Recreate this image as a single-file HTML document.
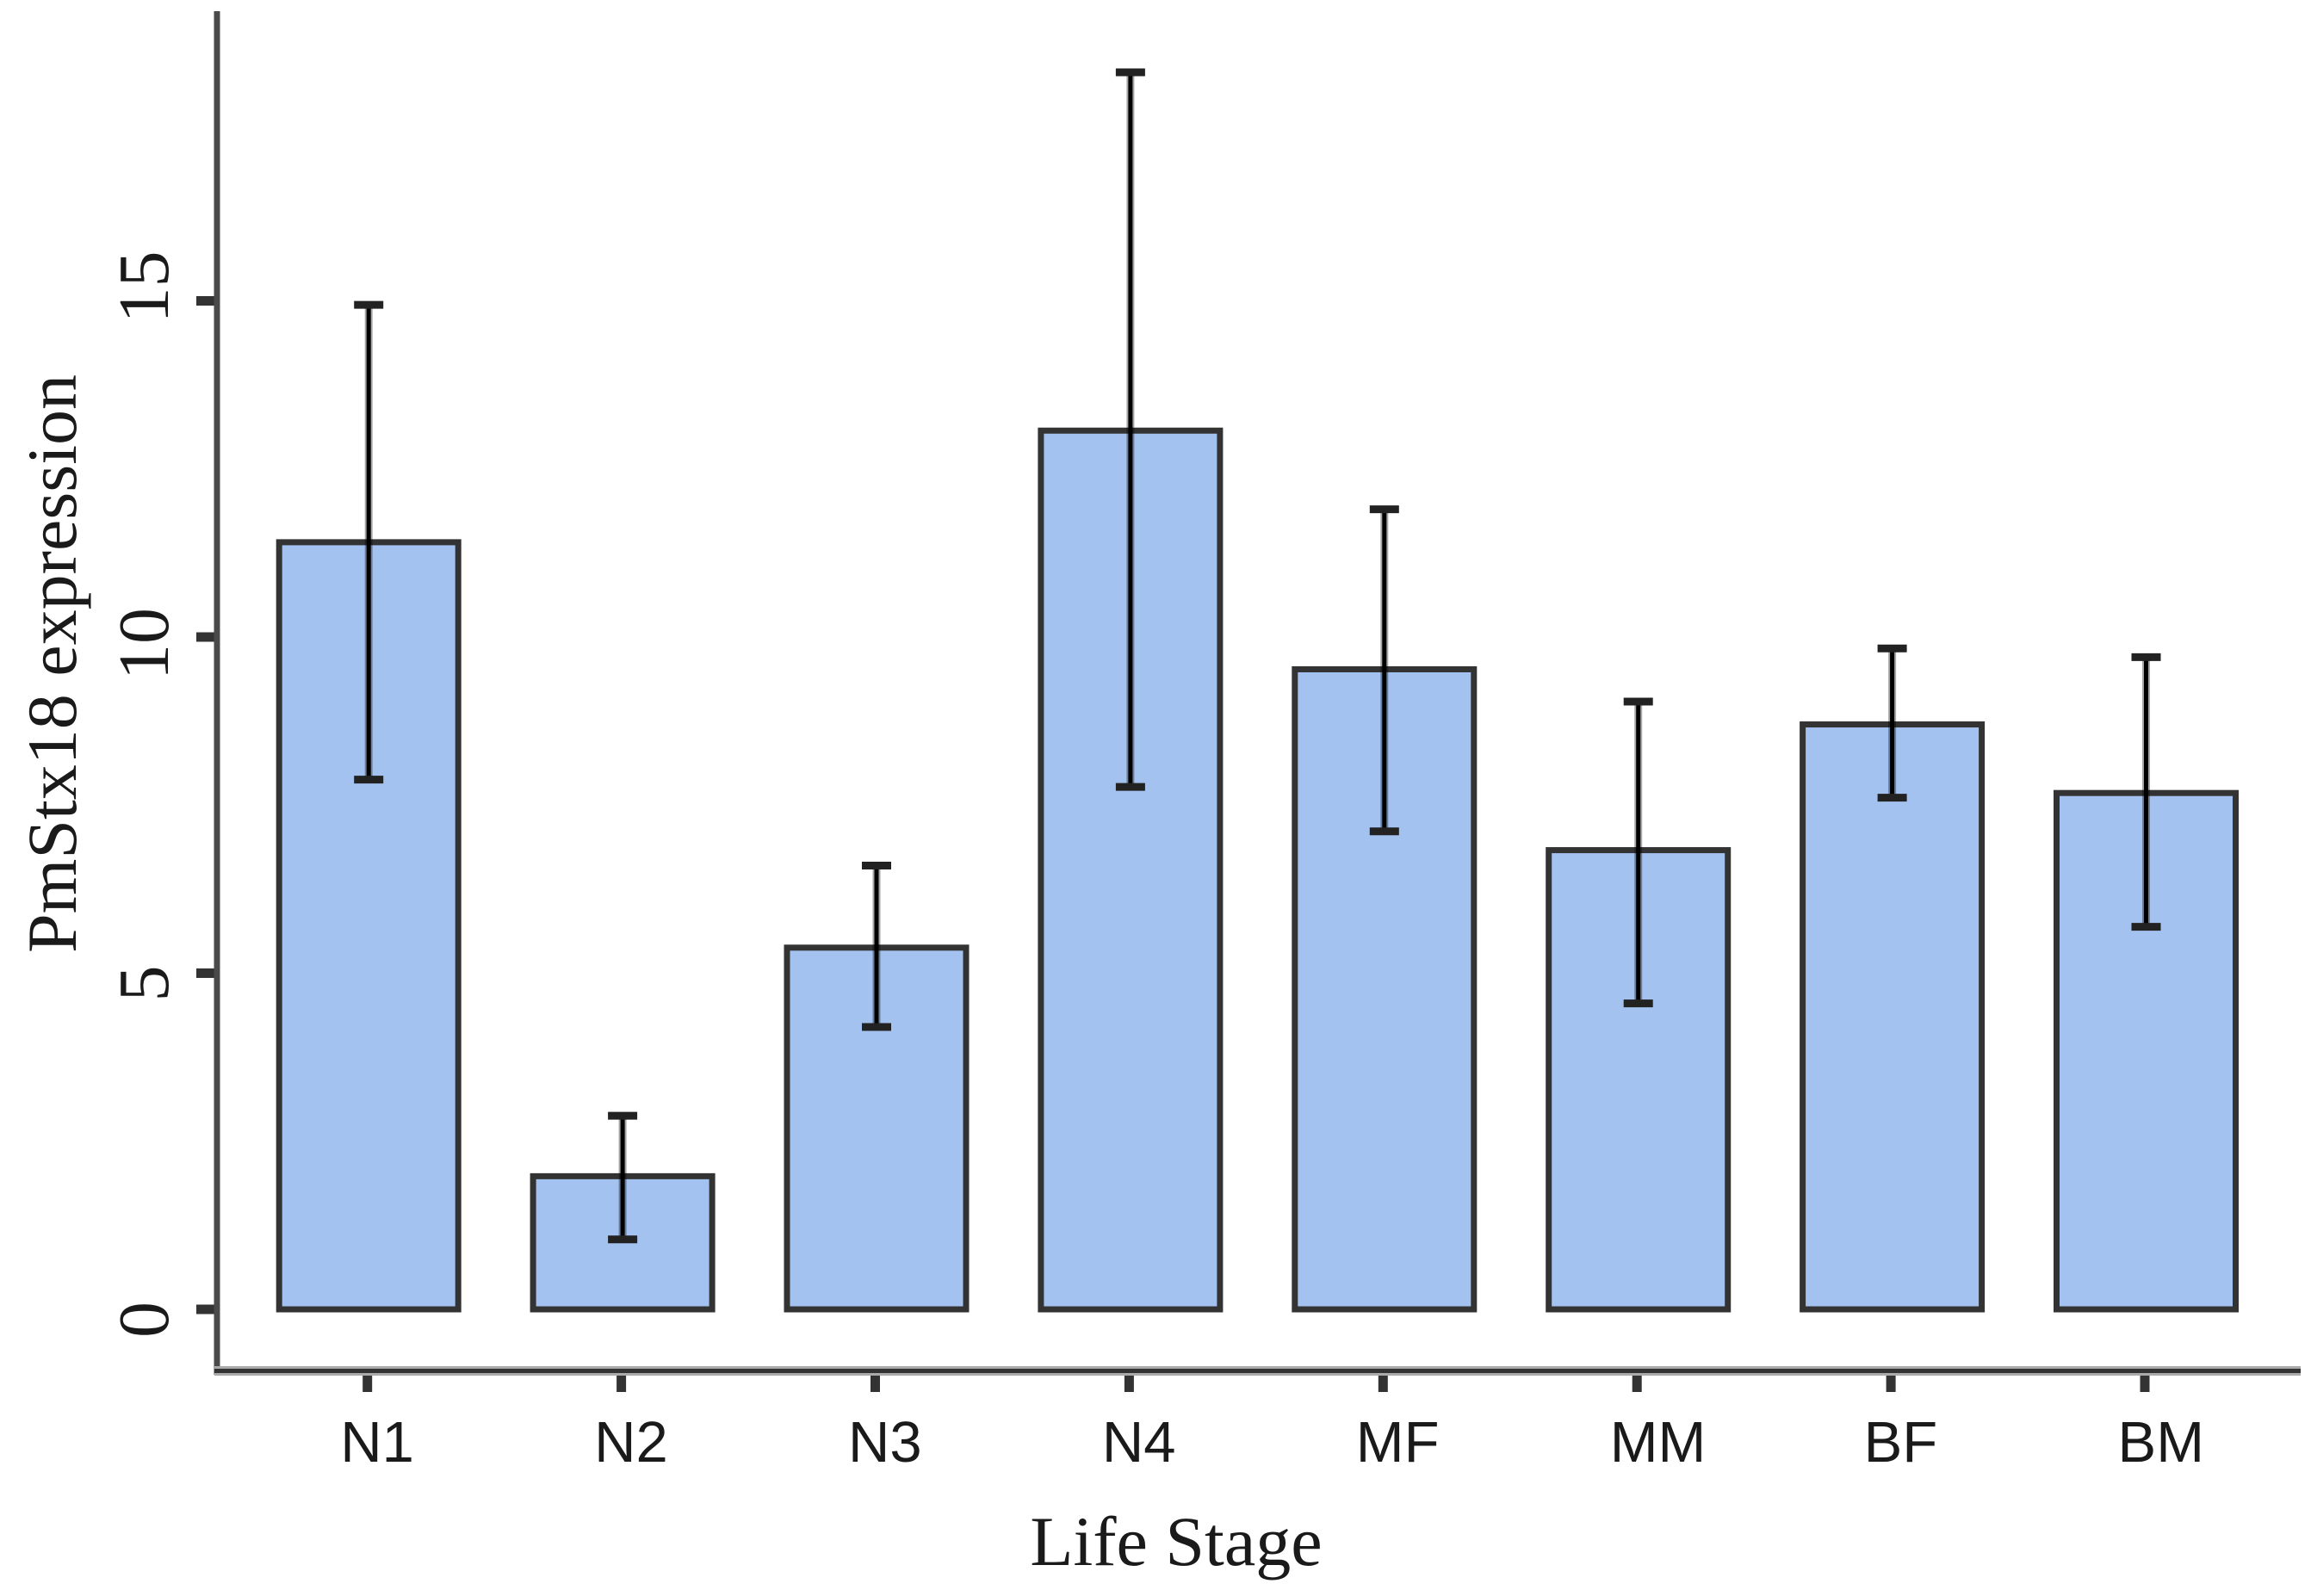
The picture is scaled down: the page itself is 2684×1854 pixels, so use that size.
<!DOCTYPE html>
<html>
<head>
<meta charset="utf-8">
<title>PmStx18 expression by life stage</title>
<style>
html,body{margin:0;padding:0;background:#fff;}
svg{display:block;}
.tick-x{font-family:"Liberation Sans",sans-serif;font-size:67px;fill:#1a1a1a;}
.serif{font-family:"Liberation Serif",serif;fill:#1a1a1a;}
</style>
</head>
<body>
<svg id="chart" width="2684" height="1854" viewBox="0 0 2684 1854" xmlns="http://www.w3.org/2000/svg">
<rect width="2684" height="1854" fill="#ffffff"/>
<g id="bars"></g>
<g id="errors"></g>
<g id="axes"></g>
<text class="serif" font-size="82" x="1366" y="1818" text-anchor="middle">Life Stage</text>
<text class="serif" font-size="82" text-anchor="middle" transform="translate(88 771) rotate(-90)">PmStx18 expression</text>
</svg>
<script>
const categories = ['N1','N2','N3','N4','MF','MM','BF','BM'];
const means = [11.41,1.98,5.38,13.07,9.52,6.83,8.70,7.68];
const errorHigh = [14.94,2.88,6.60,18.40,11.90,9.04,9.83,9.70];
const errorLow = [7.88,1.04,4.20,7.77,7.11,4.55,7.61,5.69];
const yTicks = [0,5,10,15];

const NS = 'http://www.w3.org/2000/svg';
const zeroY = 1521, unitY = 78.1;
const firstX = 428.2, stepX = 294.9, barW = 208;
function yScale(v){ return zeroY - v * unitY; }
function xScale(i){ return firstX + i * stepX; }
function yLabelShift(t){
  if (t === 15) return 26;
  if (t === 10) return 50;
  return 33;
}
function make(tag, attrs, parent){
  const el = document.createElementNS(NS, tag);
  for (const k in attrs) el.setAttribute(k, attrs[k]);
  parent.appendChild(el);
  return el;
}
const barsG = document.getElementById('bars');
const errG = document.getElementById('errors');
const axesG = document.getElementById('axes');

categories.forEach(function(cat, i){
  const cx = xScale(i);
  const bar = make('rect', {x: cx - barW/2, y: yScale(means[i]), width: barW, height: yScale(0) - yScale(means[i]), fill: '#a4c2ef', stroke: '#333333', 'stroke-width': 7}, barsG);
  
  

  const halo = make('line', {x1: cx, x2: cx, y1: yScale(errorHigh[i]), y2: yScale(errorLow[i]), stroke: '#000', 'stroke-opacity': 0.35, 'stroke-width': 9}, errG);
  
  
  const stem = make('line', {x1: cx, x2: cx, y1: yScale(errorHigh[i]), y2: yScale(errorLow[i]), stroke: '#000', 'stroke-width': 5}, errG);
  
  
  const capHi = make('line', {x1: cx - 17, x2: cx + 17, y1: yScale(errorHigh[i]), y2: yScale(errorHigh[i]), stroke: '#222', 'stroke-width': 9}, errG);
  
  
  const capLo = make('line', {x1: cx - 17, x2: cx + 17, y1: yScale(errorLow[i]), y2: yScale(errorLow[i]), stroke: '#222', 'stroke-width': 9}, errG);
  
  

  const tick = make('line', {x1: cx - 1.5, x2: cx - 1.5, y1: 1592, y2: 1617, stroke: '#333', 'stroke-width': 11}, axesG);
  
  
  const label = make('text', {x: cx - 33, y: 1698, 'class': 'tick-x'}, axesG);
  label.textContent = cat;
  
  
});

yTicks.forEach(function(t){
  const y = yScale(t);
  const tick = make('line', {x1: 228, x2: 252, y1: y, y2: y, stroke: '#333', 'stroke-width': 11}, axesG);
  
  
  const label = make('text', {'class': 'serif', 'font-size': 84, transform: 'translate(195 ' + (y + yLabelShift(t)) + ') rotate(-90)'}, axesG);
  label.textContent = String(t);
  
  
});

const yAxis = make('line', {x1: 252, x2: 252, y1: 13, y2: 1597, stroke: '#4a4a4a', 'stroke-width': 7}, axesG);


const xHalo = make('line', {x1: 249, x2: 2672, y1: 1592.5, y2: 1592.5, stroke: '#aaaaaa', 'stroke-width': 11}, axesG);


const xAxis = make('line', {x1: 249, x2: 2672, y1: 1592.5, y2: 1592.5, stroke: '#333', 'stroke-width': 5}, axesG);


</script>
</body>
</html>
